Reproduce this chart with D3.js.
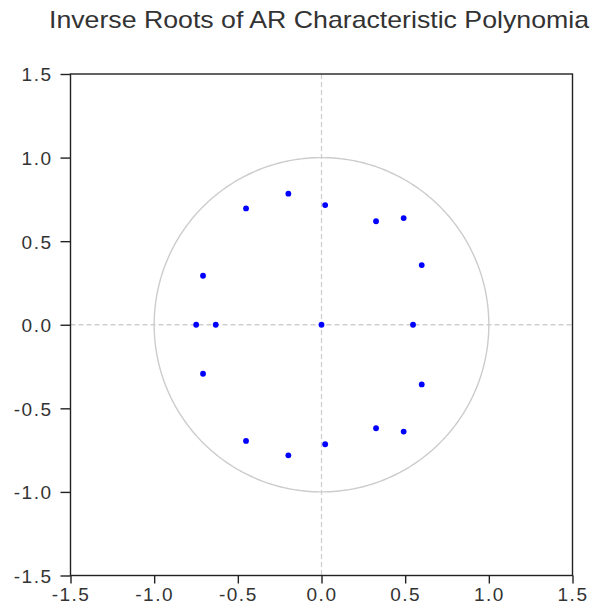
<!DOCTYPE html>
<html>
<head>
<meta charset="utf-8">
<script src="https://cdn.jsdelivr.net/npm/d3@7"></script>
<style>
  body { margin: 0; background: #fff; }
  svg { display: block; }
  .axis text { font-family: "Liberation Sans", Arial, sans-serif; font-size: 19px; fill: #333; letter-spacing: 1.5px; }
  .axis line { stroke: #222; stroke-width: 1.4; }
</style>
</head>
<body>
<svg id="chart"></svg>
<script>
// inverse roots, real and imaginary parts
const rootsRe = [0, 0.547, -0.632, -0.749,
  -0.708, -0.708, -0.451, -0.451, -0.198, -0.198, 0.022, 0.022,
  0.326, 0.326, 0.491, 0.491, 0.599, 0.599];
const rootsIm = [0, 0, 0, 0,
  0.293, -0.293, 0.696, -0.695, 0.784, -0.781, 0.716, -0.715,
  0.619, -0.619, 0.638, -0.639, 0.357, -0.357];
const tickVals = [-1.5, -1.0, -0.5, 0.0, 0.5, 1.0, 1.5];
const titleText = "Inverse Roots of AR Characteristic Polynomia";

const width = 591, height = 616;
const svg = d3.select('#chart').attr('width', width).attr('height', height);

const x = d3.scaleLinear().domain([-1.5, 1.5]).range([70.5, 572.5]);
const y = d3.scaleLinear().domain([-1.5, 1.5]).range([575.5, 74]);

// plain hyphen for negatives, like the original
const fmt = d => d.toFixed(1);

// title
svg.append('text')
  .attr('x', 49).attr('y', 28)
  .attr('textLength', 540).attr('lengthAdjust', 'spacingAndGlyphs')
  .style('font-family', '"Liberation Sans", Arial, sans-serif')
  .style('font-size', '24px')
  .style('fill', '#333')
  .text(titleText);

// zero lines
svg.append('line')
  .attr('x1', x(0)).attr('x2', x(0)).attr('y1', y(1.5)).attr('y2', y(-1.5))
  .attr('stroke', '#cfcfcf').attr('stroke-width', 1.3).attr('stroke-dasharray', '5,3');
svg.append('line')
  .attr('x1', x(-1.5)).attr('x2', x(1.5)).attr('y1', y(0)).attr('y2', y(0))
  .attr('stroke', '#cfcfcf').attr('stroke-width', 1.3).attr('stroke-dasharray', '5,3');

// unit circle
const circ = d3.range(0, 361).map(a => [Math.cos(a * Math.PI / 180), Math.sin(a * Math.PI / 180)]);
svg.append('path')
  .datum(circ)
  .attr('d', d3.line().x(d => x(d[0])).y(d => y(d[1])))
  .attr('fill', 'none').attr('stroke', '#cccccc').attr('stroke-width', 1.4);

// axes
const yAxis = svg.append('g').attr('class', 'axis')
  .attr('transform', `translate(${x(-1.5)},0)`)
  .call(d3.axisLeft(y).tickValues(tickVals).tickFormat(fmt).tickSize(10).tickPadding(8));
yAxis.select('.domain').remove();
yAxis.selectAll('text').attr('dy', '0.36em');

const xAxis = svg.append('g').attr('class', 'axis')
  .attr('transform', `translate(0,${y(-1.5)})`)
  .call(d3.axisBottom(x).tickValues(tickVals).tickFormat(fmt).tickSize(8).tickPadding(4));
xAxis.select('.domain').remove();

// frame
svg.append('rect')
  .attr('x', x(-1.5)).attr('y', y(1.5))
  .attr('width', x(1.5) - x(-1.5)).attr('height', y(-1.5) - y(1.5))
  .attr('fill', 'none').attr('stroke', '#222').attr('stroke-width', 1.4);

// roots
svg.append('g')
  .selectAll('circle')
  .data(rootsRe.map((r, i) => ({re: r, im: rootsIm[i]})))
  .enter()
  .append('circle')
    .attr('cx', d => x(d.re))
    .attr('cy', d => y(d.im))
    .attr('r', 2.9)
    .style('fill', '#0000ff');
</script>
</body>
</html>
